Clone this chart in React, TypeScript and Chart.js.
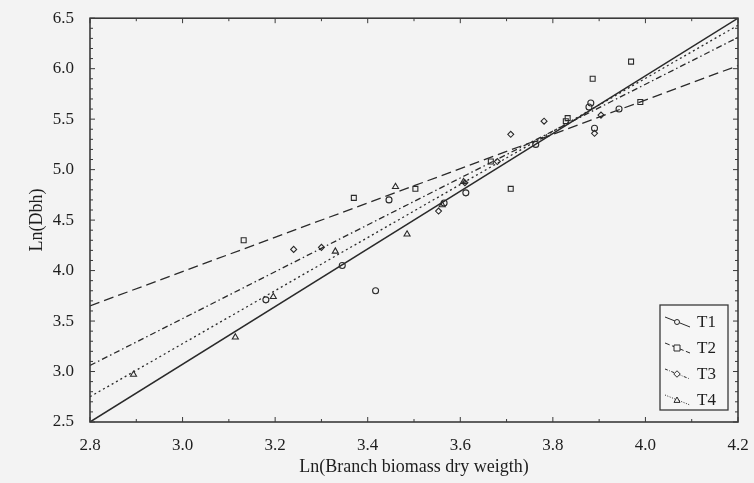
import React, { useEffect, useRef } from "react";
import { Chart, registerables } from "chart.js";

Chart.register(...registerables);

// Axis ranges and ticks
const xMin = 2.8;
const xMax = 4.2;
const yMin = 2.5;
const yMax = 6.5;
const xStep = 0.2;
const yStep = 0.5;
const minorStep = 0.1;

const seriesLabels = ["T1", "T2", "T3", "T4"];

// Observed points (Ln branch biomass, Ln Dbh)
const t1X = [3.18, 3.345, 3.417, 3.446, 3.565, 3.612, 3.763, 3.878, 3.89, 3.943, 3.882];
const t1Y = [3.71, 4.05, 3.8, 4.7, 4.67, 4.77, 5.25, 5.62, 5.41, 5.6, 5.66];

const t2X = [3.132, 3.37, 3.503, 3.666, 3.709, 3.828, 3.886, 3.969, 3.989, 3.832];
const t2Y = [4.3, 4.72, 4.81, 5.08, 4.81, 5.48, 5.9, 6.07, 5.67, 5.51];

const t3X = [3.24, 3.3, 3.553, 3.61, 3.68, 3.709, 3.781, 3.89, 3.904];
const t3Y = [4.21, 4.23, 4.59, 4.87, 5.08, 5.35, 5.48, 5.36, 5.54];

const t4X = [2.894, 3.114, 3.196, 3.33, 3.46, 3.485, 3.561, 3.607];
const t4Y = [2.97, 3.34, 3.74, 4.19, 4.83, 4.36, 4.65, 4.88];

// Fitted regression lines: values at xMin and xMax
const fitT1 = [2.5, 6.5];
const fitT2 = [3.65, 6.03];
const fitT3 = [3.06, 6.31];
const fitT4 = [2.75, 6.43];

const ink = "#2a2a2a";
const markerStyles = ["circle", "rect", "rectRot", "triangle"];
const markerRadius = [3, 3.5, 3, 3.5];
const dashes: number[][] = [[], [10, 5], [6, 3, 1.5, 3], [2, 3]];

const pts = (xs: number[], ys: number[]) => xs.map((x, i) => ({ x, y: ys[i] }));
const fit = (v: number[]) => [{ x: xMin, y: v[0] }, { x: xMax, y: v[1] }];

function marker(ctx: CanvasRenderingContext2D, style: string, r: number, x: number, y: number) {
  ctx.beginPath();
  if (style === "circle") {
    ctx.arc(x, y, r, 0, Math.PI * 2);
  } else if (style === "rect") {
    ctx.rect(x - r, y - r, 2 * r, 2 * r);
  } else if (style === "rectRot") {
    ctx.moveTo(x, y - r * 1.3);
    ctx.lineTo(x + r * 1.3, y);
    ctx.lineTo(x, y + r * 1.3);
    ctx.lineTo(x - r * 1.3, y);
    ctx.closePath();
  } else {
    ctx.moveTo(x, y - r);
    ctx.lineTo(x + r, y + r * 0.8);
    ctx.lineTo(x - r, y + r * 0.8);
    ctx.closePath();
  }
  ctx.fill();
  ctx.stroke();
}

const serif = "'Liberation Serif', 'DejaVu Serif', serif";

const framePlugin = {
  id: "frame",
  afterDatasetsDraw(chart: any) {
    const { ctx, chartArea, scales } = chart;
    const { left, right, top, bottom } = chartArea;
    ctx.save();
    ctx.strokeStyle = "#3a3a3a";
    ctx.lineWidth = 1.6;
    ctx.strokeRect(left, top, right - left, bottom - top);
    ctx.lineWidth = 1;
    for (let v = xMin; v <= xMax + 1e-9; v += minorStep) {
      const px = scales.x.getPixelForValue(v);
      const major = Math.abs(v / xStep - Math.round(v / xStep)) < 1e-6;
      const len = major ? 5 : 3;
      ctx.beginPath();
      ctx.moveTo(px, bottom);
      ctx.lineTo(px, bottom - len);
      ctx.moveTo(px, top);
      ctx.lineTo(px, top + len);
      ctx.stroke();
    }
    for (let v = yMin; v <= yMax + 1e-9; v += minorStep) {
      const py = scales.y.getPixelForValue(v);
      const major = Math.abs(v / yStep - Math.round(v / yStep)) < 1e-6;
      const len = major ? 5 : 3;
      ctx.beginPath();
      ctx.moveTo(left, py);
      ctx.lineTo(left + len, py);
      ctx.moveTo(right, py);
      ctx.lineTo(right - len, py);
      ctx.stroke();
    }
    // legend
    const bx = right - 78;
    const by = bottom - 117;
    const bw = 68;
    const bh = 105;
    ctx.fillStyle = "#f6f6f6";
    ctx.fillRect(bx, by, bw, bh);
    ctx.strokeStyle = "#3a3a3a";
    ctx.lineWidth = 1.3;
    ctx.strokeRect(bx, by, bw, bh);
    ctx.font = "17px " + serif;
    ctx.textBaseline = "middle";
    seriesLabels.forEach((lab, i) => {
      const cy = by + 17 + i * 26;
      ctx.strokeStyle = ink;
      ctx.lineWidth = 1;
      ctx.setLineDash(dashes[i].length ? dashes[i].map((d) => d * 0.5) : []);
      ctx.beginPath();
      ctx.moveTo(bx + 5, cy - 5);
      ctx.lineTo(bx + 30, cy + 5);
      ctx.stroke();
      ctx.setLineDash([]);
      ctx.fillStyle = "#f6f6f6";
      marker(ctx, markerStyles[i], markerRadius[i] - 0.5, bx + 17, cy);
      ctx.fillStyle = "#1e1e1e";
      ctx.fillText(lab, bx + 37, cy + 1);
    });
    ctx.restore();
  },
};

export default function App() {
  const ref = useRef<HTMLCanvasElement>(null);
  useEffect(() => {
    document.body.style.margin = "0";
    document.body.style.background = "#f3f3f3";
    const scatterSets = [pts(t1X, t1Y), pts(t2X, t2Y), pts(t3X, t3Y), pts(t4X, t4Y)].map((d, i) => ({
      type: "scatter" as const,
      label: seriesLabels[i],
      data: d,
      pointStyle: markerStyles[i],
      pointRadius: markerRadius[i],
      borderColor: ink,
      backgroundColor: "rgba(0,0,0,0)",
      borderWidth: 1.1,
      showLine: false,
    }));
    const lineSets = [fitT1, fitT2, fitT3, fitT4].map((v, i) => ({
      type: "line" as const,
      label: seriesLabels[i] + " fit",
      data: fit(v),
      borderColor: ink,
      borderWidth: i === 0 ? 1.5 : 1.3,
      borderDash: dashes[i],
      pointRadius: 0,
      fill: false,
    }));
    const chart = new Chart(ref.current!, {
      type: "scatter",
      data: { datasets: [...lineSets, ...scatterSets] as any },
      options: {
        animation: false,
        responsive: false,
        layout: { padding: { top: 16, right: 16, left: 0, bottom: 0 } },
        plugins: { legend: { display: false }, tooltip: { enabled: false } },
        scales: {
          x: {
            type: "linear",
            min: xMin,
            max: xMax,
            ticks: { stepSize: xStep, color: "#1e1e1e", font: { family: serif, size: 17 }, padding: 5, callback: (v: any) => Number(v).toFixed(1) },
            grid: { display: false },
            border: { display: false },
            title: { display: true, text: "Ln(Branch biomass dry weigth)", color: "#1e1e1e", font: { family: serif, size: 18 }, padding: { top: 0, bottom: 5 } },
            afterFit: (s: any) => { s.height = 61; },
          },
          y: {
            type: "linear",
            min: yMin,
            max: yMax,
            ticks: { stepSize: yStep, color: "#1e1e1e", font: { family: serif, size: 17 }, padding: 8, callback: (v: any) => Number(v).toFixed(1) },
            grid: { display: false },
            border: { display: false },
            title: { display: true, text: "Ln(Dbh)", color: "#1e1e1e", font: { family: serif, size: 18 }, padding: { top: 26, bottom: 0 } },
            afterFit: (s: any) => { s.width = 90; },
          },
        },
      },
      plugins: [framePlugin],
    } as any);
    return () => chart.destroy();
  }, []);
  return <canvas ref={ref} width={754} height={483} style={{ display: "block", background: "#f3f3f3" }} />;
}
